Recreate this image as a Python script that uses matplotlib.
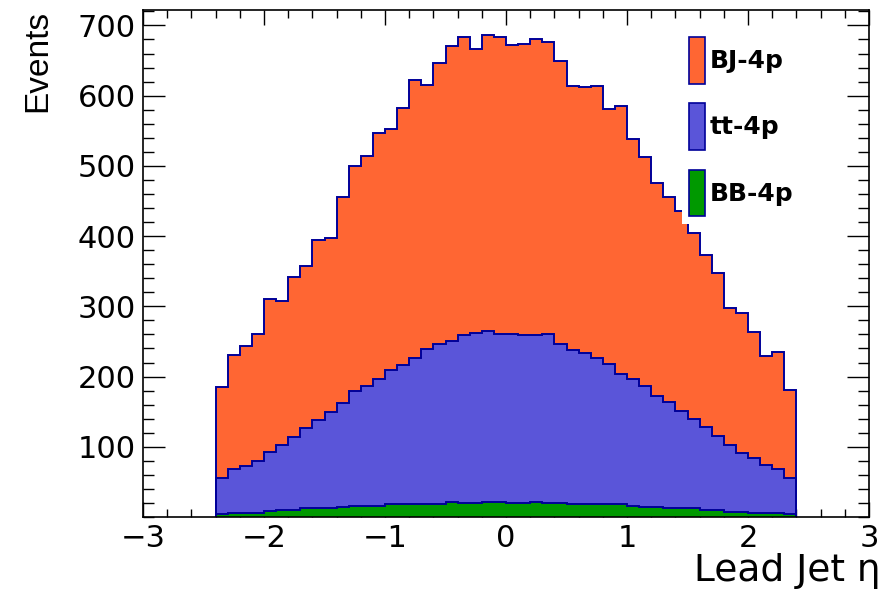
import numpy as np
import matplotlib
matplotlib.use("Agg")
import matplotlib.pyplot as plt
from matplotlib.patches import Patch
from matplotlib.ticker import MultipleLocator

# binning of lead jet eta: 48 bins of 0.1 between -2.4 and 2.4
eta_lo, eta_hi, nbins = -2.4, 2.4, 48

# per-sample contributions (events per bin)
bb_4p = [4, 6, 6, 6, 8, 10, 10, 13, 13, 13, 14, 15, 15, 16, 18, 18,
         18, 19, 19, 21, 20, 20, 21, 21, 20, 20, 21, 20, 20, 18, 18, 18,
         18, 18, 16, 14, 14, 13, 13, 13, 10, 10, 7, 7, 6, 6, 6, 4]
tt_4p = [51, 63, 67, 74, 84, 93, 104, 114, 125, 136, 148, 164, 172, 180, 191, 199,
         209, 220, 228, 229, 239, 242, 244, 239, 240, 239, 238, 240, 227, 220, 215, 208,
         200, 186, 180, 172, 159, 151, 138, 127, 118, 106, 96, 84, 78, 68, 63, 52]
bj_4p = [130, 161, 171, 181, 218, 204, 228, 230, 256, 248, 293, 321, 327, 351, 344, 365,
         395, 376, 399, 421, 424, 405, 421, 424, 412, 415, 421, 417, 403, 376, 380, 388,
         363, 382, 343, 326, 302, 292, 285, 265, 245, 231, 194, 199, 180, 155, 166, 125]

labels = ["BJ-4p", "tt-4p", "BB-4p"]
colors = {"BJ-4p": "#ff6633", "tt-4p": "#5a55d9", "BB-4p": "#009900"}
line_col = "#000099"

edges = np.linspace(eta_lo, eta_hi, nbins + 1)
s_bb = np.array(bb_4p, dtype=float)
s_tt = s_bb + np.array(tt_4p)
s_bj = s_tt + np.array(bj_4p)

fig = plt.figure(figsize=(8.92, 5.89), dpi=100)
ax = fig.add_axes([143/892, 1 - 517/589, (869 - 143)/892, (517 - 10)/589])

# THStack style: draw the totals, biggest first
for name, tot in [("BJ-4p", s_bj), ("tt-4p", s_tt), ("BB-4p", s_bb)]:
    ax.stairs(tot, edges, fill=True, color=colors[name], zorder=2)
    ax.stairs(tot, edges, baseline=0, color=line_col, lw=1.4, zorder=3)

ax.set_xlim(-3, 3)
ax.set_ylim(0, 722)
ax.xaxis.set_major_locator(MultipleLocator(1))
ax.xaxis.set_minor_locator(MultipleLocator(0.2))
ax.set_yticks([100, 200, 300, 400, 500, 600, 700])
ax.yaxis.set_minor_locator(MultipleLocator(20))

ax.tick_params(which="both", direction="in", top=True, right=True, width=1.0, color="black")
ax.tick_params(axis="x", which="major", length=11, pad=5)
ax.tick_params(axis="x", which="minor", length=5.5)
ax.tick_params(axis="y", which="major", length=16, pad=5)
ax.tick_params(axis="y", which="minor", length=8)
for lab in ax.get_xticklabels() + ax.get_yticklabels():
    lab.set_fontsize(22)
    lab.set_family("DejaVu Sans")
for sp in ax.spines.values():
    sp.set_linewidth(1.2)
    sp.set_zorder(5)

fig.text(880/892, 1 - 581/589, "Lead Jet \u03b7", ha="right", va="baseline",
         fontsize=27, family="DejaVu Sans")
fig.text(38/892, 1 - 10/589, "Events", ha="center", va="top", rotation=90,
         fontsize=24, family="Liberation Sans")

handles = [Patch(facecolor=colors[n], edgecolor=line_col, linewidth=1.2) for n in labels]
leg = ax.legend(handles, labels, loc="lower left", bbox_to_anchor=(0.742, 0.578),
                borderaxespad=0, borderpad=0.3, frameon=True, fancybox=False,
                facecolor="white", edgecolor="none", framealpha=1.0,
                handlelength=0.64, handleheight=2.5, handletextpad=0.17,
                labelspacing=0.78, prop={"family": "DejaVu Sans", "weight": "bold", "size": 18})
leg.set_zorder(4)

fig.savefig("out.png", dpi=100)
